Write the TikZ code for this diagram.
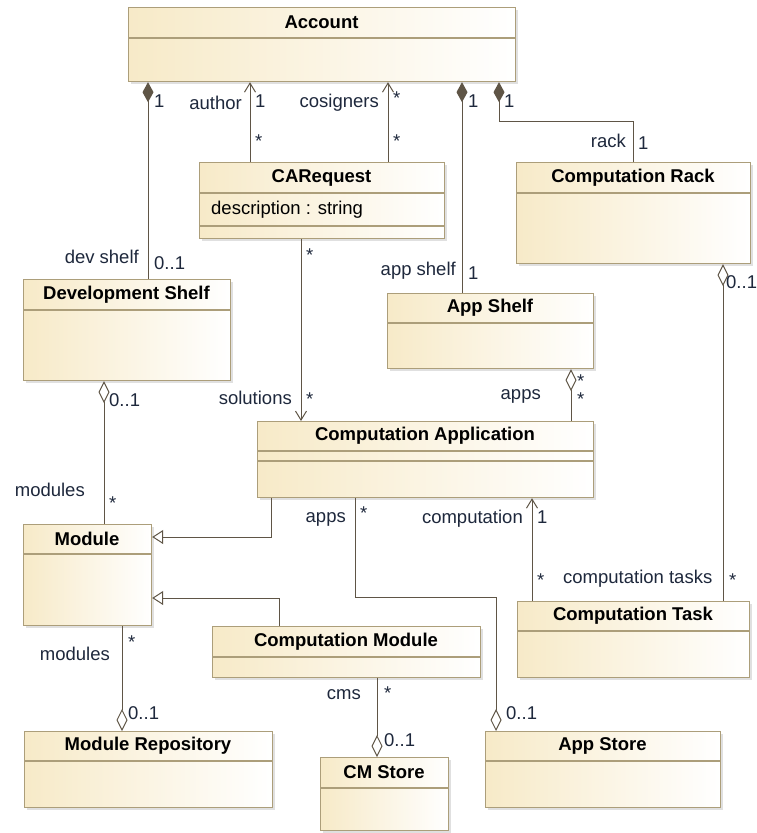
\documentclass[tikz,border=0pt]{standalone}
\usepackage{fontspec}
\setmainfont{Liberation Sans}
\usetikzlibrary{arrows.meta,shadows}

\definecolor{boxleft}{RGB}{247,234,200}
\definecolor{boxedge}{RGB}{172,158,122}
\definecolor{wire}{RGB}{95,85,70}
\definecolor{lbl}{RGB}{30,40,60}

\tikzset{
  classbox/.style={rectangle, draw=boxedge, line width=1.2pt, inner sep=0pt,
    left color=boxleft, right color=white, anchor=north west,
    drop shadow={shadow xshift=2pt, shadow yshift=-2pt, opacity=0.2, fill=black!60}},
  compline/.style={draw=boxedge, line width=1.2pt},
  classname/.style={font=\fontsize{18.5}{21}\selectfont\bfseries, text=black, inner sep=0pt},
  attr/.style={font=\fontsize{18.5}{21}\selectfont, text=black, inner sep=0pt, anchor=west},
  rl/.style={font=\fontsize{18.5}{21}\selectfont, text=lbl, inner sep=0pt},
  rw/.style={rl, anchor=west},
  re/.style={rl, anchor=east},
  wire/.style={draw=wire, line width=1pt},
  navig/.style={wire, -{Straight Barb[length=9pt,width=11pt,line width=1pt]}},
  compo/.style={wire, {Diamond[length=20pt,width=11pt,fill=wire]}-},
  aggr/.style={wire, {Diamond[open,length=22pt,width=11pt,fill=white]}-},
  inherit/.style={wire, -{Triangle[open,length=11pt,width=14pt,fill=white]}},
}

% \umlclass{name}{x1}{y1}{x2}{y2}{header bottom}{title}
\newcommand\umlclass[7]{%
  \node[classbox, minimum width={(#4-#2)*1pt}, minimum height={(#5-#3)*1pt}]
    (#1) at (#2,#3) {};
  \draw[compline] (#2,#6) -- (#4,#6);
  \node[classname] (#1-t) at ({(#2+#4)/2},{(#3+#6)/2}) {#7};
}

\begin{document}
\begin{tikzpicture}[x=1pt,y=-1pt]
\fill[white] (0,0) rectangle (757,833);
\useasboundingbox (0,0) rectangle (757,833);

% classes
\umlclass{acc}{128}{7}{515}{81}{38}{Account}
\umlclass{carq}{199}{162}{444}{238}{193}{CARequest}
\draw[compline] (199,226) -- (444,226);
\node[attr] (carq-a) at (211,210) {description : string};
\umlclass{dev}{23}{279}{230}{380}{310}{Development Shelf}
\umlclass{rack}{516}{162}{750}{263}{193}{Computation Rack}
\umlclass{shelf}{387}{293}{593}{368}{323}{App Shelf}
\umlclass{app}{257}{421}{593}{497}{451}{Computation Application}
\draw[compline] (257,461) -- (593,461);
\umlclass{mod}{23}{524}{151}{625}{554}{Module}
\umlclass{task}{517}{601}{749}{677}{631}{Computation Task}
\umlclass{cmod}{212}{626}{480}{677}{657}{Computation Module}
\umlclass{repo}{24}{731}{272}{807}{761}{Module Repository}
\umlclass{cms}{320}{757}{448}{830}{788}{CM Store}
\umlclass{store}{485}{731}{720}{807}{761}{App Store}

% Account -- Development Shelf
\draw[compo] (148,0 |- acc.south) -- (148,0 |- dev.north);
\node[rw] (l1) at (154,101) {1};
\node[re] (l2) at (139,257) {dev shelf};
\node[rw] (l3) at (154,263) {0..1};

% CARequest -> Account (author)
\draw[navig] (250,0 |- carq.north) -- (250,0 |- acc.south);
\node[re] (l4) at (242,103) {author};
\node[rw] (l5) at (255,101) {1};
\node[rw] (l6) at (255,141) {*};

% CARequest -> Account (cosigners)
\draw[navig] (388,0 |- carq.north) -- (388,0 |- acc.south);
\node[re] (l7) at (379,103) {cosigners};
\node[rw] (l8) at (393,98) {*};
\node[rw] (l9) at (393,141) {*};

% Account -- App Shelf
\draw[compo] (462,0 |- acc.south) -- (462,0 |- shelf.north);
\node[rw] (l10) at (468,101) {1};
\node[re] (l11) at (456,271) {app shelf};
\node[rw] (l12) at (468,273) {1};

% Account -- Computation Rack
\draw[compo] (499,0 |- acc.south) -- (499,121) -- (633,121) -- (633,0 |- rack.north);
\node[rw] (l13) at (504,101) {1};
\node[re] (l14) at (626,141) {rack};
\node[rw] (l15) at (638,143) {1};

% Computation Rack -- Computation Task
\draw[aggr] (723,0 |- rack.south) -- (723,0 |- task.north);
\node[rw] (l16) at (726,282) {0..1};
\node[rw] (l17) at (729,580) {*};

% CARequest -> Computation Application (solutions)
\draw[navig] (301,0 |- carq.south) -- (301,0 |- app.north);
\node[rw] (l18) at (306,255) {*};
\node[re] (l19) at (292,398) {solutions};
\node[rw] (l20) at (306,399) {*};

% Development Shelf -- Module
\draw[aggr] (104,0 |- dev.south) -- (104,0 |- mod.north);
\node[rw] (l21) at (109,400) {0..1};
\node[re] (l22) at (85,490) {modules};
\node[rw] (l23) at (109,503) {*};

% App Shelf -- Computation Application
\draw[aggr] (571,0 |- shelf.south) -- (571,0 |- app.north);
\node[rw] (l24) at (577,381) {*};
\node[re] (l25) at (541,396) {apps};
\node[rw] (l26) at (577,399) {*};

% generalizations
\draw[inherit] (271,0 |- app.south) -- (271,537) -- (0,537 -| mod.east);
\draw[inherit] (279,0 |- cmod.north) -- (279,598) -- (0,598 -| mod.east);

% App Store -- Computation Application
\draw[aggr] (496,0 |- store.north) -- (496,597) -- (355,597) -- (355,0 |- app.south);
\node[re] (l27) at (346,519) {apps};
\node[rw] (l28) at (360,513) {*};
\node[rw] (l29) at (506,713) {0..1};

% Computation Task -> Computation Application
\draw[navig] (532,0 |- task.north) -- (532,0 |- app.south);
\node[re] (l30) at (523,519) {computation};
\node[rw] (l31) at (537,517) {1};
\node[rw] (l32) at (537,580) {*};
\node[rw] (l33) at (563,579) {computation tasks};

% Module Repository -- Module
\draw[aggr] (122,0 |- repo.north) -- (122,0 |- mod.south);
\node[re] (l34) at (110,654) {modules};
\node[rw] (l35) at (128,642) {*};
\node[rw] (l36) at (128,713) {0..1};

% CM Store -- Computation Module
\draw[aggr] (377,0 |- cms.north) -- (377,0 |- cmod.south);
\node[re] (l37) at (361,695) {cms};
\node[rw] (l38) at (384,693) {*};
\node[rw] (l39) at (384,740) {0..1};
\end{tikzpicture}
\end{document}
